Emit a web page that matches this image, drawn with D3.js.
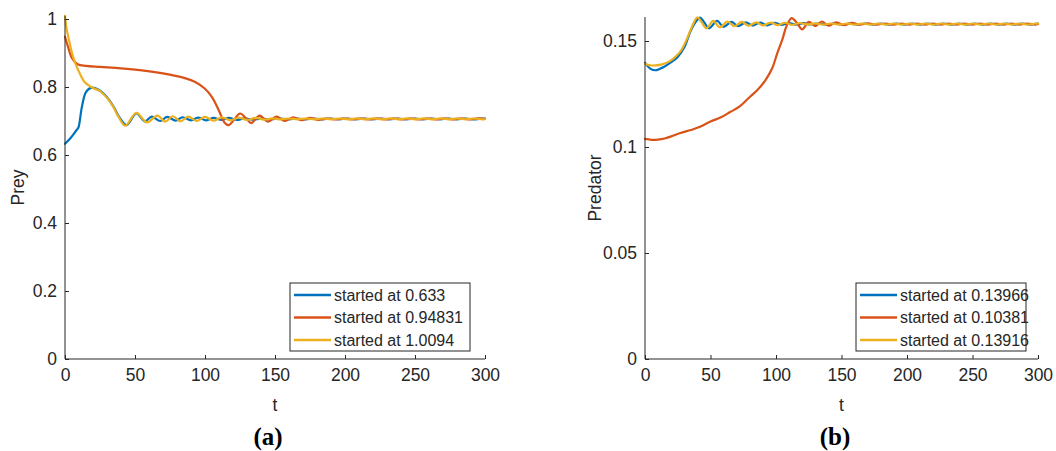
<!DOCTYPE html>
<html>
<head>
<meta charset="utf-8">
<script src="https://cdn.jsdelivr.net/npm/d3@7"></script>
<style>
  html, body { margin: 0; padding: 0; background: #fff; }
  svg { display: block; }
</style>
</head>
<body>
<svg id="chart" width="1056" height="451"></svg>
<script>
// ---------------- DATA ----------------
const xTicks = [0, 50, 100, 150, 200, 250, 300];
const preyYTicks = [0, 0.2, 0.4, 0.6, 0.8, 1];
const predYTicks = [0, 0.05, 0.1, 0.15];
const seriesColors = ["#0072BD", "#D95319", "#EDB120"];
const preyLegend = ["started at 0.633", "started at 0.94831", "started at 1.0094"];
const predLegend = ["started at 0.13966", "started at 0.10381", "started at 0.13916"];

// Prey, blue (start 0.633)
const preyBlueT = [0, 4, 8, 9.5, 12, 15, 19, 24, 30, 35, 39, 44, 51, 57, 62, 68, 73, 79, 84, 90, 95, 101, 106, 112, 117, 123, 128, 134, 140, 147,
  154, 160, 166, 172, 178, 184, 190, 196, 202, 208, 214, 220, 226, 232, 238, 244, 250, 256, 262, 268, 274, 280, 286, 292, 298, 300];
const preyBlueV = [0.633, 0.65, 0.672, 0.68, 0.74, 0.785, 0.798, 0.792, 0.77, 0.74, 0.71, 0.688, 0.722, 0.699, 0.713, 0.700, 0.712, 0.701, 0.711, 0.702, 0.710, 0.702, 0.709, 0.703, 0.709, 0.703, 0.708, 0.704, 0.7072, 0.7045,
  0.7073, 0.7046, 0.7073, 0.7046, 0.7073, 0.7046, 0.7073, 0.7046, 0.7073, 0.7046, 0.7073, 0.7046, 0.7073, 0.7046, 0.7073, 0.7046, 0.7073, 0.7046, 0.7073, 0.7046, 0.7073, 0.7046, 0.7073, 0.7046, 0.7073, 0.707];
// Prey, red (start 0.94831)
const preyRedT = [0, 2, 5, 9, 15, 25, 40, 55, 70, 85, 93, 100, 105, 110, 114, 117, 121, 125, 130, 133, 139, 145, 151, 157, 163, 169, 175, 181,
  187, 193, 199, 205, 211, 217, 223, 229, 235, 241, 247, 253, 259, 265, 271, 277, 283, 289, 295, 300];
const preyRedV = [0.948, 0.92, 0.885, 0.867, 0.862, 0.859, 0.855, 0.849, 0.84, 0.827, 0.815, 0.795, 0.77, 0.73, 0.695, 0.688, 0.705, 0.722, 0.705, 0.694, 0.716, 0.698, 0.713, 0.700, 0.711, 0.7025, 0.709, 0.7035,
  0.7076, 0.7045, 0.7075, 0.7046, 0.7075, 0.7046, 0.7075, 0.7046, 0.7075, 0.7046, 0.7075, 0.7046, 0.7075, 0.7046, 0.7075, 0.7046, 0.7075, 0.7046, 0.7075, 0.706];
// Prey, yellow (start 1.0094)
const preyYellowT = [0, 1, 2.5, 5, 7.5, 10, 14, 20, 25, 30, 34, 38, 43, 51, 58.5, 66, 71.5, 77, 82.5, 88, 94, 100, 106, 112, 118, 124, 130, 136, 142, 148,
  154, 160, 166, 172, 178, 184, 190, 196, 202, 208, 214, 220, 226, 232, 238, 244, 250, 256, 262, 268, 274, 280, 286, 292, 298, 300];
const preyYellowV = [1.0094, 0.975, 0.945, 0.9, 0.868, 0.845, 0.815, 0.797, 0.788, 0.768, 0.745, 0.714, 0.686, 0.724, 0.696, 0.716, 0.698, 0.714, 0.699, 0.713, 0.700, 0.712, 0.701, 0.711, 0.702, 0.710, 0.703, 0.709, 0.704, 0.708,
  0.7047, 0.7073, 0.7047, 0.7073, 0.7047, 0.7073, 0.7047, 0.7073, 0.7047, 0.7073, 0.7047, 0.7073, 0.7047, 0.7073, 0.7047, 0.7073, 0.7047, 0.7073, 0.7047, 0.7073, 0.7047, 0.7073, 0.7047, 0.7073, 0.7047, 0.7052];

// Predator, blue (start 0.13966)
const predBlueT = [0, 4, 8, 11, 15, 20, 25, 30, 35, 40, 42, 45, 49, 55, 60, 66, 71, 77, 82, 88, 93, 99, 104, 110, 115, 121, 126,
  132, 138, 144, 150, 156, 162, 168, 174, 180, 186, 192, 198, 204, 210, 216, 222, 228, 234, 240, 246, 252, 258, 264, 270, 276, 282, 288, 294, 300];
const predBlueV = [0.1397, 0.137, 0.1362, 0.1368, 0.138, 0.140, 0.1425, 0.147, 0.155, 0.160, 0.161, 0.159, 0.156, 0.1595, 0.1567, 0.159, 0.157, 0.1588, 0.1573, 0.1587, 0.1574, 0.1586, 0.1576, 0.1585, 0.1577, 0.1584, 0.1578,
  0.15825, 0.15775, 0.15825, 0.15775, 0.15825, 0.15775, 0.15825, 0.15775, 0.15825, 0.15775, 0.15825, 0.15775, 0.15825, 0.15775, 0.15825, 0.15775, 0.15825, 0.15775, 0.15825, 0.15775, 0.15825, 0.15775, 0.15825, 0.15775, 0.15825, 0.15775, 0.15825, 0.15775, 0.15825];
// Predator, red (start 0.10381)
const predRedT = [0, 5, 10, 15, 20, 27, 35, 42, 50, 58, 65, 72, 80, 86, 92, 97, 101, 105, 108, 112, 116, 120, 125, 130, 135, 140, 146, 152, 158, 164, 170, 177,
  184, 190, 196, 202, 208, 214, 220, 226, 232, 238, 244, 250, 256, 262, 268, 274, 280, 286, 292, 298, 300];
const predRedV = [0.1038, 0.1034, 0.1035, 0.104, 0.105, 0.1066, 0.108, 0.1095, 0.112, 0.114, 0.1165, 0.119, 0.1236, 0.127, 0.1316, 0.137, 0.1443, 0.151, 0.157, 0.1608, 0.1585, 0.1555, 0.159, 0.157, 0.1592, 0.1572, 0.1588, 0.1575, 0.1586, 0.1577, 0.1583, 0.15775,
  0.15825, 0.15775, 0.15825, 0.15775, 0.15825, 0.15775, 0.15825, 0.15775, 0.15825, 0.15775, 0.15825, 0.15775, 0.15825, 0.15775, 0.15825, 0.15775, 0.15825, 0.15775, 0.15825, 0.15775, 0.158];
// Predator, yellow (start 0.13916)
const predYellowT = [0, 4, 8, 13, 19, 24, 28, 32, 36, 40, 43, 47, 52, 57, 63, 68, 74, 79, 85, 90, 96, 101, 107, 112, 118, 124, 130,
  136, 142, 148, 154, 160, 166, 172, 178, 184, 190, 196, 202, 208, 214, 220, 226, 232, 238, 244, 250, 256, 262, 268, 274, 280, 286, 292, 298, 300];
const predYellowV = [0.1392, 0.1385, 0.1385, 0.139, 0.1405, 0.143, 0.146, 0.151, 0.157, 0.1612, 0.159, 0.156, 0.1595, 0.1565, 0.1592, 0.157, 0.159, 0.1572, 0.1588, 0.1574, 0.1587, 0.1575, 0.1586, 0.1576, 0.1585, 0.1578, 0.1583,
  0.15775, 0.15825, 0.15775, 0.15825, 0.15775, 0.15825, 0.15775, 0.15825, 0.15775, 0.15825, 0.15775, 0.15825, 0.15775, 0.15825, 0.15775, 0.15825, 0.15775, 0.15825, 0.15775, 0.15825, 0.15775, 0.15825, 0.15775, 0.15825, 0.15775, 0.15825, 0.15775, 0.15825, 0.1582];

// ---------------- DRAW ----------------
const svg = d3.select("#chart");
const axisColor = "#262626";
const sans = "'Liberation Sans', Arial, Helvetica, sans-serif";
const serif = "'Liberation Serif', 'Times New Roman', Times, serif";

function zip(t, v) { return t.map((d, i) => ({ t: d, v: v[i] })); }

function panel(cfg) {
  const g = svg.append("g");
  const x = d3.scaleLinear().domain([0, 300]).range([cfg.x0, cfg.x1]);
  const y = d3.scaleLinear().domain([0, cfg.ymax]).range([cfg.yb, cfg.yt]);

  const line = d3.line().x(d => x(d.t)).y(d => y(d.v)).curve(d3.curveCatmullRom.alpha(0.5));
  cfg.series.forEach((s, i) => {
    g.append("path").datum(s).attr("d", line)
      .attr("fill", "none").attr("stroke", seriesColors[i])
      .attr("stroke-width", 2.2).attr("stroke-linejoin", "round").attr("stroke-linecap", "round");
  });

  // x axis
  const xa = g.append("g").attr("transform", `translate(0,${cfg.yb})`)
    .call(d3.axisBottom(x).tickValues(xTicks).tickSizeInner(-4).tickSizeOuter(0).tickPadding(10).tickFormat(d3.format("d")));
  xa.select(".domain").attr("stroke", axisColor).attr("d", `M${cfg.x0},0H${cfg.x1}`);
  xa.selectAll(".tick line").attr("stroke", axisColor);
  xa.selectAll("text").style("font-size", "17.5px").style("fill", axisColor).style("font-family", sans);

  // y axis
  const ya = g.append("g").attr("transform", `translate(${cfg.x0},0)`)
    .call(d3.axisLeft(y).tickValues(cfg.yTicks).tickSizeInner(-4).tickSizeOuter(0).tickPadding(8).tickFormat(d => String(+d.toFixed(3))));
  ya.select(".domain").attr("stroke", axisColor).attr("d", `M0,${cfg.yb}V${cfg.yt}`);
  ya.selectAll(".tick line").attr("stroke", axisColor);
  ya.selectAll("text").style("font-size", "17.5px").style("fill", axisColor).style("font-family", sans);

  // labels
  g.append("text").attr("x", (cfg.x0 + cfg.x1) / 2).attr("y", 411).attr("text-anchor", "middle")
    .style("font-size", "17.5px").style("font-family", sans).style("fill", axisColor).text("t");
  g.append("text").attr("transform", `translate(${cfg.ylabX},${(cfg.yb + cfg.yt) / 2}) rotate(-90)`)
    .attr("text-anchor", "middle").style("font-size", "17.5px").style("font-family", sans).style("fill", axisColor).text(cfg.ylabel);
  g.append("text").attr("x", cfg.capX).attr("y", 445).attr("text-anchor", "middle")
    .style("font-family", serif).style("font-weight", "bold")
    .style("font-size", "25px").style("fill", "#000").text(cfg.caption);

  // legend
  const L = cfg.legend;
  const lg = g.append("g");
  lg.append("rect").attr("x", L.x).attr("y", 283).attr("width", L.w).attr("height", 68)
    .attr("fill", "#fff").attr("stroke", axisColor).attr("stroke-width", 1);
  cfg.legendLabels.forEach((lab, i) => {
    const cy = 295 + i * 22.5;
    lg.append("line").attr("x1", L.x + 4).attr("x2", L.x + 41).attr("y1", cy).attr("y2", cy)
      .attr("stroke", seriesColors[i]).attr("stroke-width", 2.5);
    lg.append("text").attr("x", L.x + 44).attr("y", cy + 5.5)
      .style("font-size", "16px").style("font-family", sans).style("fill", axisColor).text(lab);
  });
}

panel({
  x0: 65, x1: 485, yb: 359, yt: 359 - 1.0094 * 340, ymax: 1.0094,
  yTicks: preyYTicks, ylabel: "Prey", ylabX: 24, caption: "(a)", capX: 268,
  series: [zip(preyBlueT, preyBlueV), zip(preyRedT, preyRedV), zip(preyYellowT, preyYellowV)],
  legend: { x: 290, w: 180 }, legendLabels: preyLegend
});

panel({
  x0: 645, x1: 1038, yb: 359, yt: 17, ymax: (359 - 17) / 2120,
  yTicks: predYTicks, ylabel: "Predator", ylabX: 601, caption: "(b)", capX: 835,
  series: [zip(predBlueT, predBlueV), zip(predRedT, predRedV), zip(predYellowT, predYellowV)],
  legend: { x: 856, w: 170 }, legendLabels: predLegend
});
</script>
</body>
</html>
